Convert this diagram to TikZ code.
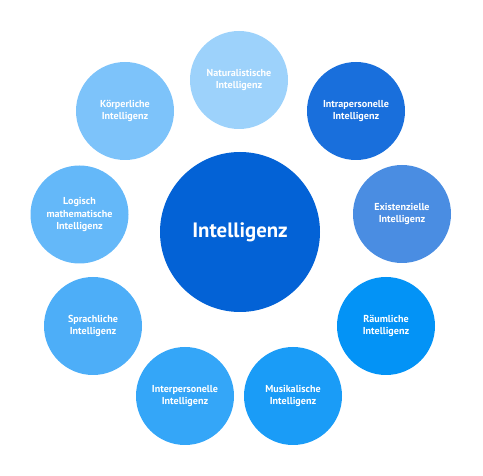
\documentclass[tikz,border=0pt]{standalone}
\usepackage{fontspec}
\setmainfont{PT Sans}
\definecolor{core}{HTML}{0362D6}
\definecolor{natur}{HTML}{9DD2FB}
\definecolor{koerper}{HTML}{7DC3FA}
\definecolor{logik}{HTML}{64B8F9}
\definecolor{sprache}{HTML}{4DAEF8}
\definecolor{inter}{HTML}{34A6F8}
\definecolor{musik}{HTML}{1A9CF7}
\definecolor{raum}{HTML}{0393F6}
\definecolor{exist}{HTML}{4A8DE2}
\definecolor{intra}{HTML}{196FDC}

\begin{document}
\begin{tikzpicture}[
  x=1pt,y=-1pt,
  hub/.style={circle,fill=core,minimum size=160pt,inner sep=0pt,text=white,font=\fontsize{20.8}{24}\selectfont\bfseries},
  sat/.style={circle,minimum size=98pt,inner sep=0pt,text=white,align=center,font=\fontsize{10.1}{12.7}\selectfont\bfseries}
]
\useasboundingbox (0,0) rectangle (483,476);
\node[hub] (center) at (240,232) {Intelligenz};
\node[sat,fill=natur] (natur) at (239,80) {Naturalistische\\Intelligenz};
\node[sat,fill=koerper] (koerper) at (125,111) {Körperliche\\Intelligenz};
\node[sat,fill=intra] (intra) at (356,111) {Intrapersonelle\\Intelligenz};
\node[sat,fill=logik] (logik) at (79.5,214.5) {Logisch\\mathematische\\Intelligenz};
\node[sat,fill=exist] (exist) at (402,214) {Existenzielle\\Intelligenz};
\node[sat,fill=sprache] (sprache) at (93,326) {Sprachliche\\Intelligenz};
\node[sat,fill=raum] (raum) at (386,326) {Räumliche\\Intelligenz};
\node[sat,fill=inter] (inter) at (185,396) {Interpersonelle\\Intelligenz};
\node[sat,fill=musik] (musik) at (293,396) {Musikalische\\Intelligenz};
\end{tikzpicture}
\end{document}
